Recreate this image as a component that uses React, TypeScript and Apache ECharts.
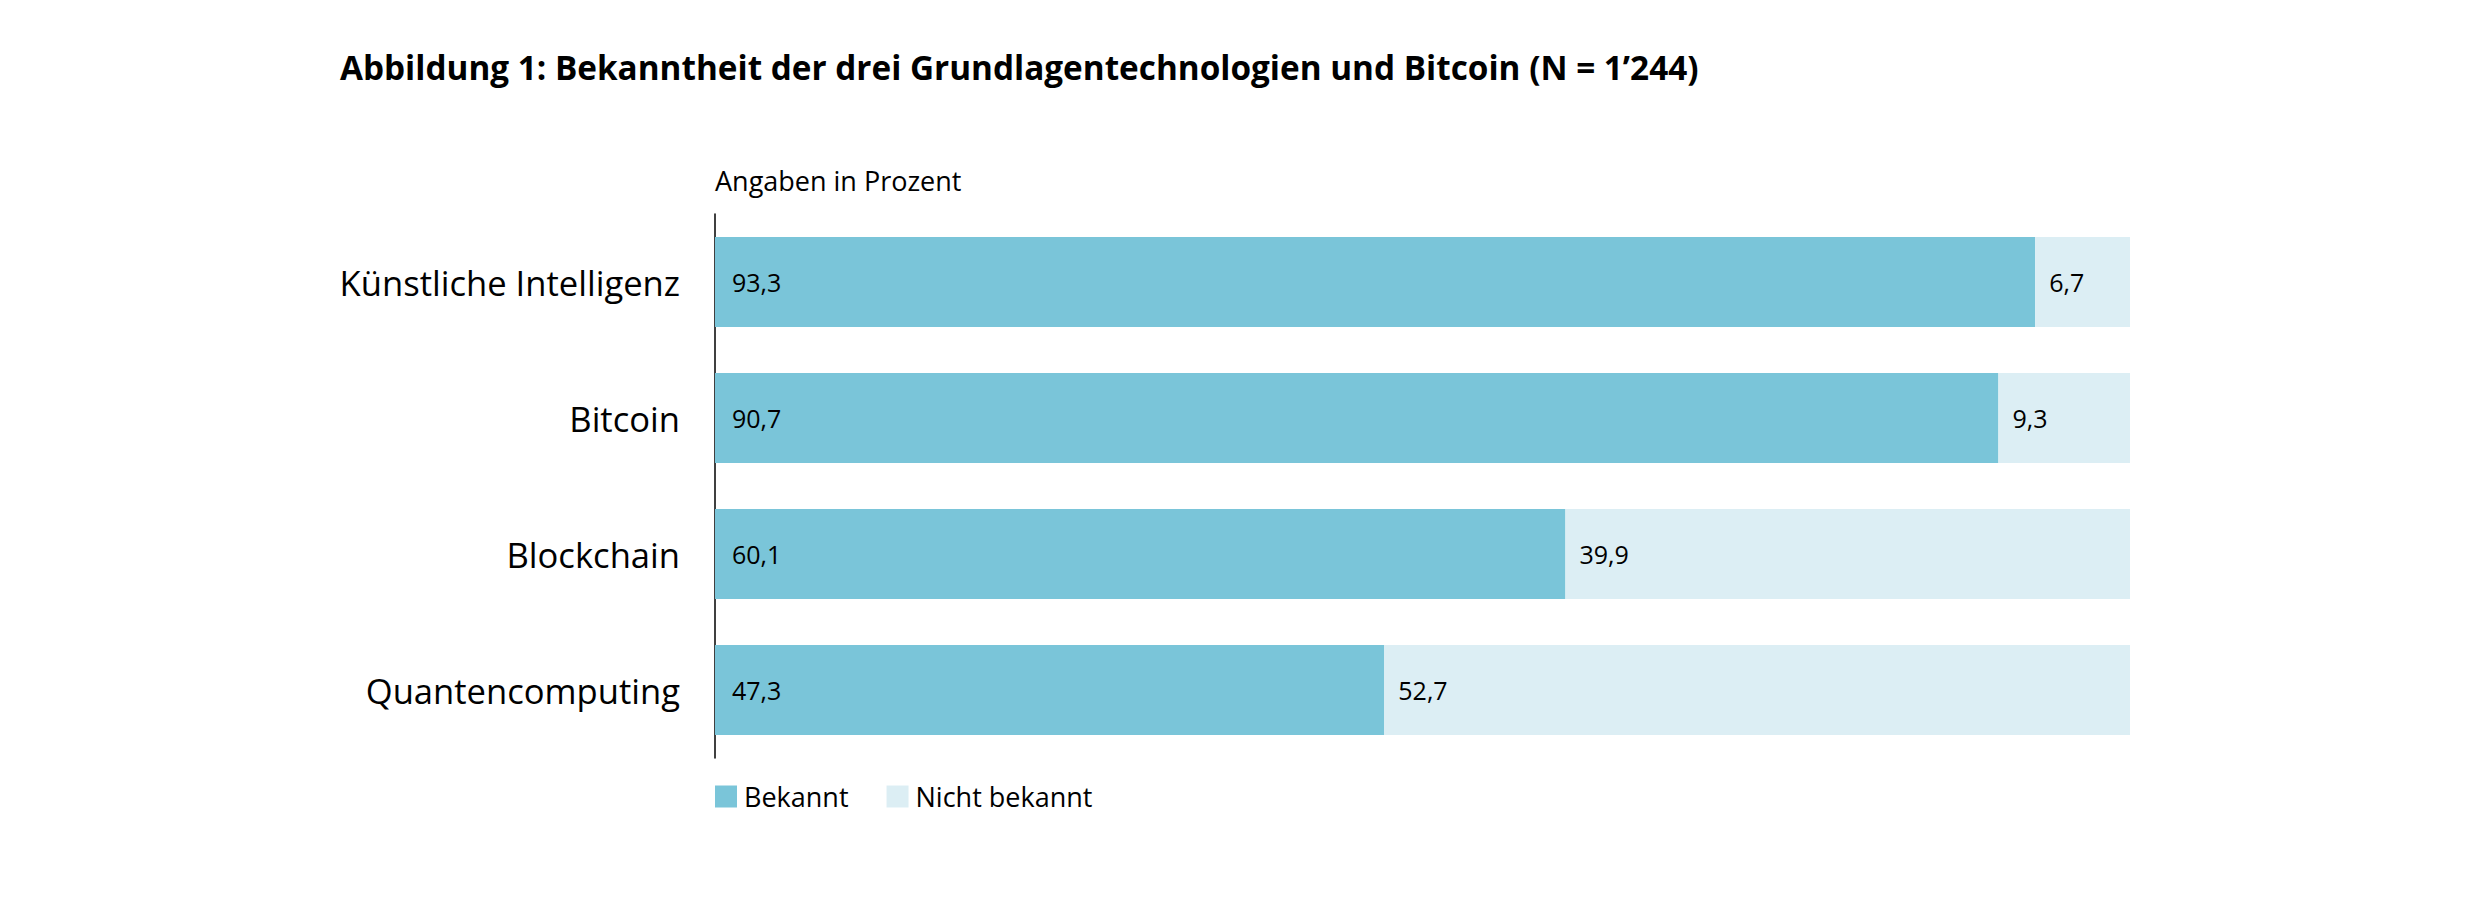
import React, { useEffect, useRef } from "react";
import * as echarts from "echarts";

const titleText = "Abbildung 1: Bekanntheit der drei Grundlagentechnologien und Bitcoin (N = 1’244)";
const unitText = "Angaben in Prozent";
const categories = ["Künstliche Intelligenz", "Bitcoin", "Blockchain", "Quantencomputing"];
const known = [93.3, 90.7, 60.1, 47.3];
const notKnown = [6.7, 9.3, 39.9, 52.7];
const seriesNames = ["Bekannt", "Nicht bekannt"];

const FONT = "'Open Sans', 'Noto Sans', sans-serif";
const fmt = (v: number) => v.toFixed(1).replace(".", ",");

export default function App() {
  const ref = useRef<HTMLDivElement>(null);
  useEffect(() => {
    if (!ref.current) return;
    const chart = echarts.init(ref.current, null, { renderer: "svg" });
    chart.setOption({
      animation: false,
      backgroundColor: "#ffffff",
      textStyle: { fontFamily: FONT },
      graphic: [
        {
          type: "text",
          left: 340,
          top: 50,
          style: { text: titleText, font: `bold 33.3px ${FONT}`, fill: "#000000" },
        },
        {
          type: "text",
          left: 715,
          top: 167,
          style: { text: unitText, font: `27px ${FONT}`, fill: "#000000" },
        },
      ],
      legend: {
        left: 710,
        top: 778,
        itemWidth: 22,
        itemHeight: 22,
        itemGap: 38,
        icon: "rect",
        textStyle: { fontSize: 27, color: "#000000", fontFamily: FONT, padding: [0, 0, 0, 2] },
        data: seriesNames,
      },
      grid: { left: 715, right: 350, top: 214, height: 544, containLabel: false },
      xAxis: {
        type: "value",
        min: 0,
        max: 100,
        show: false,
      },
      yAxis: {
        type: "category",
        data: categories,
        inverse: true,
        axisLine: { show: true, lineStyle: { color: "#000000", width: 1.5 } },
        axisTick: { show: false },
        splitLine: { show: false },
        axisLabel: { fontSize: 34.6, color: "#000000", margin: 35, fontFamily: FONT },
      },
      series: [
        {
          name: seriesNames[0],
          type: "bar",
          stack: "total",
          barWidth: 90,
          itemStyle: { color: "#7AC5D9" },
          label: {
            show: true,
            position: "insideLeft",
            distance: 17,
            fontSize: 25,
            color: "#000000",
            fontFamily: FONT,
            formatter: (p: any) => fmt(p.value),
          },
          data: known,
        },
        {
          name: seriesNames[1],
          type: "bar",
          stack: "total",
          barWidth: 90,
          itemStyle: { color: "#DCEEF4" },
          label: {
            show: true,
            position: "insideLeft",
            distance: 14,
            fontSize: 25,
            color: "#000000",
            fontFamily: FONT,
            formatter: (p: any) => fmt(p.value),
          },
          data: notKnown,
        },
      ],
    });
    return () => chart.dispose();
  }, []);
  return (
    <div
      ref={ref}
      style={{ position: "absolute", left: 0, top: 0, width: 2480, height: 900 }}
    />
  );
}
